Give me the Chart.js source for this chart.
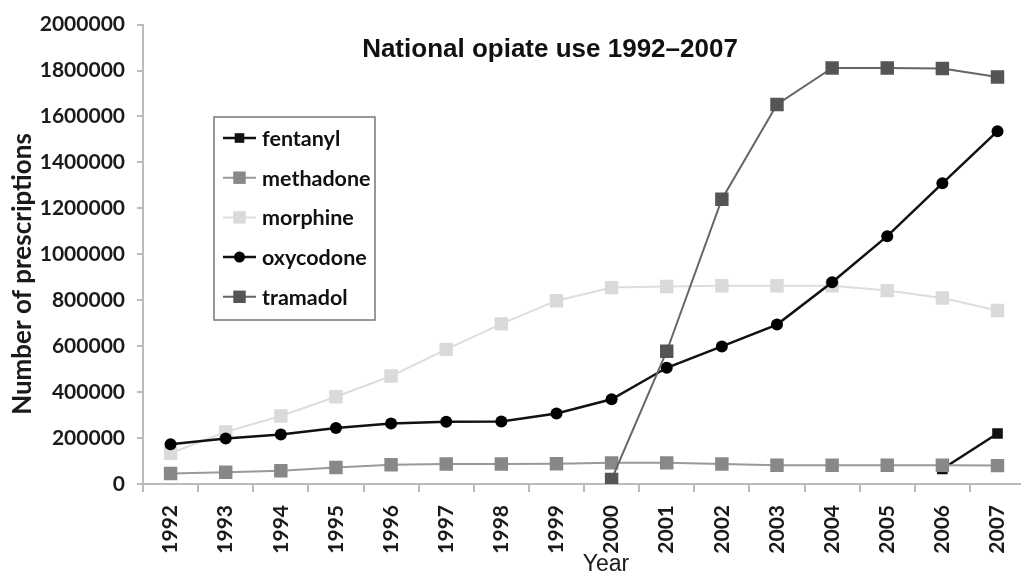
<!DOCTYPE html>
<html>
<head>
<meta charset="utf-8">
<title>National opiate use 1992–2007</title>
<script src="https://cdn.jsdelivr.net/npm/chart.js"></script>
<style>
  html, body { margin: 0; padding: 0; background: #fff; overflow: hidden; }
</style>
</head>
<body>
<canvas id="opiates" width="1036" height="580"></canvas>
<script>
  "use strict";

  // Data
  var years = ["1992", "1993", "1994", "1995", "1996", "1997", "1998", "1999",
               "2000", "2001", "2002", "2003", "2004", "2005", "2006", "2007"];
  var fentanyl = [null, null, null, null, null, null, null, null,
                  null, null, null, null, null, null, 65000, 220000];
  var methadone = [46000, 51000, 58000, 72000, 84000, 87000, 87000, 88000,
                   92000, 92000, 87000, 82000, 82000, 82000, 82000, 80000];
  var morphine = [134000, 227000, 296000, 380000, 470000, 586000, 697000, 798000,
                  855000, 860000, 863000, 863000, 863000, 842000, 810000, 755000];
  var oxycodone = [173000, 198000, 215000, 244000, 263000, 271000, 272000, 307000,
                   369000, 506000, 599000, 694000, 878000, 1079000, 1309000, 1536000];
  var tramadol = [null, null, null, null, null, null, null, null,
                  20000, 578000, 1240000, 1652000, 1811000, 1811000, 1809000, 1772000];
  var yTicks = [0, 200000, 400000, 600000, 800000, 1000000, 1200000,
                1400000, 1600000, 1800000, 2000000];

  // Title inside the plot, and the axis captions
  var titlePlugin = {
    id: "plotTitle",
    afterDraw: function (chart) {
      var ctx = chart.ctx;
      ctx.save();
      ctx.fillStyle = "#111";
      ctx.textAlign = "center";
      ctx.textBaseline = "alphabetic";
      ctx.font = "bold 26px 'Liberation Sans', Arial, sans-serif";
      ctx.fillText("National opiate use 1992\u20132007", 550, 57);
      ctx.font = "23px 'Liberation Sans', Arial, sans-serif";
      ctx.fillStyle = "#1a1a1a";
      ctx.fillText("Year", 606, 571);
      // y caption
      ctx.translate(31, 274);
      ctx.rotate(-Math.PI / 2);
      ctx.font = "bold 26px Lato, sans-serif";
      ctx.fillText("Number of prescriptions", 0, 0);
      ctx.restore();
    }
  };

  // Boxed legend at upper left
  var legendPlugin = {
    id: "boxLegend",
    afterDraw: function (chart) {
      var ctx = chart.ctx;
      var sets = chart.data.datasets;
      ctx.save();
      ctx.fillStyle = "#fff";
      ctx.fillRect(214, 117, 161, 203);
      ctx.strokeStyle = "#777";
      ctx.lineWidth = 1.5;
      ctx.strokeRect(214, 117, 161, 203);
      ctx.font = "bold 21.5px Lato, sans-serif";
      ctx.textBaseline = "middle";
      ctx.textAlign = "left";
      for (var i = 0; i < sets.length; i++) {
        var ds = sets[i];
        var y = 138 + i * 39.7;
        ctx.strokeStyle = ds.borderColor;
        ctx.lineWidth = ds.borderWidth;
        ctx.beginPath();
        ctx.moveTo(223, y);
        ctx.lineTo(256, y);
        ctx.stroke();
        ctx.fillStyle = ds.pointBackgroundColor;
        if (ds.pointStyle === "circle") {
          ctx.beginPath();
          ctx.arc(239.5, y, ds.pointRadius - 0.5, 0, Math.PI * 2);
          ctx.fill();
        } else {
          var s = ds.pointRadius * Math.SQRT1_2 - 0.5;
          ctx.fillRect(239.5 - s, y - s, 2 * s, 2 * s);
        }
        ctx.fillStyle = "#111";
        ctx.fillText(ds.label, 262, y + 1);
      }
      ctx.restore();
    }
  };

  var tickFont = { family: "Lato", size: 21, weight: "bold" };

  var ctx1 = document.getElementById("opiates").getContext("2d");
  var myChart1 = new Chart(ctx1, {
    type: "line",
    data: {
      labels: years,
      datasets: [
        {
          label: "fentanyl",
          data: fentanyl,
          order: 4,
          borderColor: "#111",
          borderWidth: 2.5,
          pointStyle: "rect",
          pointRadius: 7.5,
          pointBackgroundColor: "#111",
          pointBorderWidth: 0,
        },
        {
          label: "methadone",
          data: methadone,
          order: 3,
          borderColor: "#999",
          borderWidth: 2,
          pointStyle: "rect",
          pointRadius: 9.5,
          pointBackgroundColor: "#888",
          pointBorderWidth: 0,
        },
        {
          label: "morphine",
          data: morphine,
          order: 2,
          borderColor: "#ddd",
          borderWidth: 2,
          pointStyle: "rect",
          pointRadius: 9.5,
          pointBackgroundColor: "#dadada",
          pointBorderWidth: 0,
        },
        {
          label: "oxycodone",
          data: oxycodone,
          order: 1,
          borderColor: "#111",
          borderWidth: 2.5,
          pointStyle: "circle",
          pointRadius: 6,
          pointBackgroundColor: "#000",
          pointBorderWidth: 0,
        },
        {
          label: "tramadol",
          data: tramadol,
          order: 0,
          borderColor: "#666",
          borderWidth: 2,
          pointStyle: "rect",
          pointRadius: 9.5,
          pointBackgroundColor: "#555",
          pointBorderWidth: 0,
        },
      ],
    },
    options: {
      responsive: false,
      animation: false,
      layout: { padding: { top: 23, right: 4, left: 0, bottom: 0 } },
      plugins: {
        legend: { display: false },
        tooltip: { enabled: false },
      },
      scales: {
        x: {
          offset: true,
          grid: { offset: true, drawOnChartArea: false, tickLength: 8, color: "#bbb", lineWidth: 2 },
          border: { color: "#bbb", width: 2 },
          ticks: {
            autoSkip: false,
            maxRotation: 90,
            minRotation: 90,
            padding: 13,
            color: "#1a1a1a",
            font: tickFont,
          },
          afterFit: function (scale) {
            scale.height = 96;
          },
        },
        y: {
          min: 0,
          max: 2000000,
          afterBuildTicks: function (scale) {
            scale.ticks = yTicks.map(function (v) { return { value: v }; });
          },
          grid: { drawOnChartArea: false, tickLength: 6, color: "#bbb", lineWidth: 2 },
          border: { color: "#bbb", width: 2 },
          ticks: {
            padding: 12,
            color: "#1a1a1a",
            font: tickFont,
            callback: function (v) { return String(v); },
          },
          afterFit: function (scale) {
            scale.width = 143;
          },
        },
      },
    },
    plugins: [titlePlugin, legendPlugin],
  });
</script>
</body>
</html>
